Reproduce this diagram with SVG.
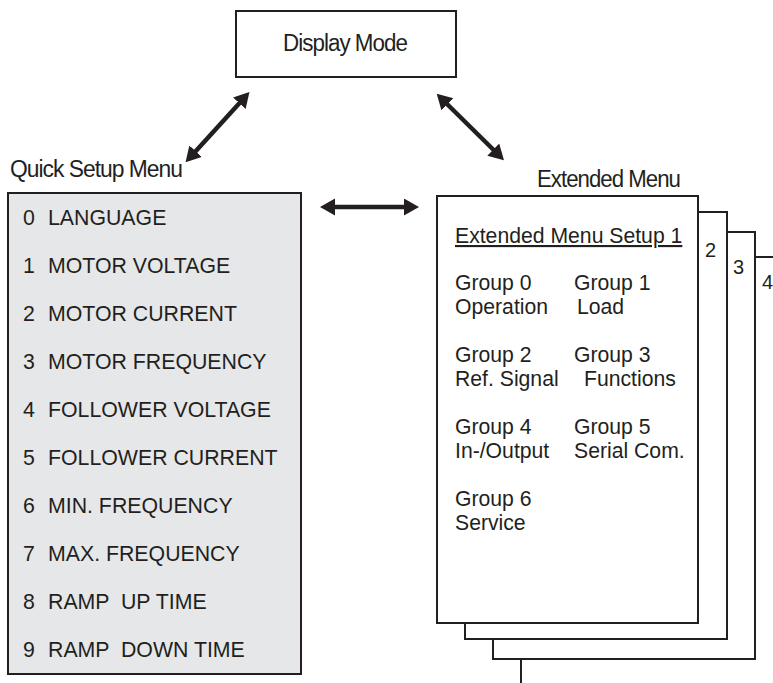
<svg xmlns="http://www.w3.org/2000/svg" width="773" height="683" viewBox="0 0 773 683">
<style>
.box{fill:#fff;stroke:#231f20;stroke-width:2}
.qbox{fill:#e6e7e8;stroke:#231f20;stroke-width:2}
.t{font-family:"Liberation Sans",Arial,sans-serif;fill:#231f20}
.item{font-size:21.3px}
.grp{font-size:21.2px}
.cond{font-size:23px;letter-spacing:-1px}
.num{font-size:20px}
.arr{stroke:#231f20;stroke-width:4.5;fill:none;marker-start:url(#ah);marker-end:url(#ah)}
</style>
<defs>
<marker id="ah" markerUnits="userSpaceOnUse" markerWidth="17" markerHeight="18" refX="2" refY="8.5" orient="auto-start-reverse" viewBox="0 0 17 18">
<path d="M0,0 L15,8.5 L0,17 z" fill="#231f20"/>
</marker>
</defs>
<g id="display-mode">
<rect class="box" x="236" y="11" width="220" height="66"/>
<text class="t cond" x="283" y="51" textLength="124" lengthAdjust="spacingAndGlyphs">Display Mode</text>
</g>
<g id="quick-setup-menu">
<text class="t cond" x="10" y="177" textLength="172" lengthAdjust="spacingAndGlyphs">Quick Setup Menu</text>
<rect class="qbox" x="8" y="193" width="293" height="481"/>
<g class="t item">
<text x="23" y="225">0</text><text x="48" y="225">LANGUAGE</text>
<text x="23" y="273">1</text><text x="48" y="273">MOTOR VOLTAGE</text>
<text x="23" y="321">2</text><text x="48" y="321">MOTOR CURRENT</text>
<text x="23" y="369">3</text><text x="48" y="369">MOTOR FREQUENCY</text>
<text x="23" y="417">4</text><text x="48" y="417">FOLLOWER VOLTAGE</text>
<text x="23" y="465">5</text><text x="48" y="465">FOLLOWER CURRENT</text>
<text x="23" y="513">6</text><text x="48" y="513">MIN. FREQUENCY</text>
<text x="23" y="561">7</text><text x="48" y="561">MAX. FREQUENCY</text>
<text x="23" y="609">8</text><text x="48" y="609" xml:space="preserve">RAMP  UP TIME</text>
<text x="23" y="657">9</text><text x="48" y="657" xml:space="preserve">RAMP  DOWN TIME</text>
</g>
</g>
<g id="extended-menu">
<text class="t cond" x="537" y="187" textLength="143" lengthAdjust="spacingAndGlyphs">Extended Menu</text>
<rect class="box" x="521" y="257" width="270" height="440"/>
<rect class="box" x="493" y="232" width="262" height="427"/>
<rect class="box" x="465" y="212" width="262" height="427"/>
<rect class="box" x="437" y="196" width="261" height="427"/>
<text class="t num" x="705" y="257">2</text>
<text class="t num" x="733" y="274">3</text>
<text class="t num" x="762" y="289">4</text>
<g class="t grp">
<text x="455" y="243" text-decoration="underline">Extended Menu Setup 1</text>
<text x="455" y="290">Group 0</text><text x="455" y="314">Operation</text>
<text x="574" y="290">Group 1</text><text x="577" y="314">Load</text>
<text x="455" y="362">Group 2</text><text x="455" y="386">Ref. Signal</text>
<text x="574" y="362">Group 3</text><text x="584" y="386">Functions</text>
<text x="455" y="434">Group 4</text><text x="455" y="458">In-/Output</text>
<text x="574" y="434">Group 5</text><text x="574" y="458">Serial Com.</text>
<text x="455" y="506">Group 6</text><text x="455" y="530">Service</text>
</g>
</g>
<g id="connectors">
<line class="arr" x1="194.3" y1="152.7" x2="240.7" y2="101.7"/>
<line class="arr" x1="446" y1="103" x2="494.7" y2="151"/>
<line class="arr" x1="333" y1="207" x2="406" y2="207"/>
</g>
</svg>
